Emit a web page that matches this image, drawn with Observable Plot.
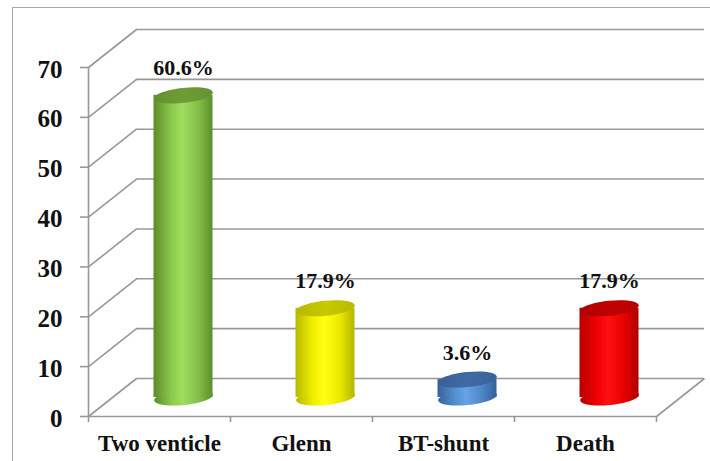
<!DOCTYPE html>
<html><head><meta charset="utf-8">
<script src="https://cdn.jsdelivr.net/npm/d3@7"></script>
<script src="https://cdn.jsdelivr.net/npm/@observablehq/plot@0.6"></script>
<style>
html,body{margin:0;padding:0;background:#fff;overflow:hidden;}
#wrap{position:relative;width:710px;height:461px;overflow:hidden;}
#border{position:absolute;left:12px;top:7px;width:760px;height:520px;border:1.5px solid #a9a9a9;}
#chart{position:absolute;left:0;top:0;}
</style></head><body>
<div id="wrap"><div id="border"></div><div id="chart"></div></div>
<script>
// ---- data ----
const categories = ["Two venticle", "Glenn", "BT-shunt", "Death"];
const values = [60.6, 17.9, 3.6, 17.9];
const valueLabels = ["60.6%", "17.9%", "3.6%", "17.9%"];
const yTicks = [0, 10, 20, 30, 40, 50, 60, 70];

// ---- styles ----
const bodyStops = [
  ["#5c8c28", "#8cc94c", "#9edd5e", "#86c04a", "#5e8f2a"],
  ["#b8b800", "#f0f000", "#ffff10", "#eaea00", "#b5b500"],
  ["#36629c", "#5590d0", "#66a3e6", "#4f86c6", "#34609a"],
  ["#b80000", "#f00000", "#ff1010", "#e80000", "#b00000"]
];
const topColors = ["#6d9d36", "#c8c800", "#3e6aa4", "#c20000"];
const GRID = "#989898";
const SERIF = "'Liberation Serif', 'DejaVu Serif', serif";

// geometry helpers (in scale units)
const PX_PER_CAT = 142, PX_PER_VAL = 349 / 70;
const DEPTH_X = 48 / PX_PER_CAT, DEPTH_Y = 38 / PX_PER_VAL;
const CYL_HALF = 29.5 / PX_PER_CAT;
const RX = 29.5, RY = 7.5, TILT = -6 * Math.PI / 180;

const rot = (x, y) => [x * Math.cos(TILT) - y * Math.sin(TILT), x * Math.sin(TILT) + y * Math.cos(TILT)];
const ellipse = {
  draw(ctx) {
    const k = 0.5523;
    const segs = [
      [[RX, RY * k], [RX * k, RY], [0, RY]],
      [[-RX * k, RY], [-RX, RY * k], [-RX, 0]],
      [[-RX, -RY * k], [-RX * k, -RY], [0, -RY]],
      [[RX * k, -RY], [RX, -RY * k], [RX, 0]]
    ];
    ctx.moveTo(...rot(RX, 0));
    for (const [a, b, c] of segs) ctx.bezierCurveTo(...rot(...a), ...rot(...b), ...rot(...c));
    ctx.closePath();
  }
};

const data = categories.map((c, i) => ({c, i, v: values[i], label: valueLabels[i]}));
const cx = d => d.i + 0.5 + DEPTH_X / 2;

const chart = Plot.plot({
  width: 710, height: 461,
  marginLeft: 88, marginRight: 54, marginTop: 67, marginBottom: 45,
  x: {domain: [0, 4], axis: null},
  y: {domain: [0, 70], axis: null},
  color: {type: "identity"},
  style: {background: "transparent", overflow: "visible"},
  marks: [
    Plot.ruleY(yTicks, {y: d => d + DEPTH_Y, x1: DEPTH_X, x2: 4 + DEPTH_X, stroke: GRID, strokeWidth: 1.6}),
    Plot.link(yTicks, {x1: 0, y1: d => d, x2: DEPTH_X, y2: d => d + DEPTH_Y, stroke: GRID, strokeWidth: 1.6}),
    Plot.ruleX([0], {y1: 0, y2: 70, stroke: GRID, strokeWidth: 1.6}),
    Plot.ruleY(yTicks, {x1: -8 / PX_PER_CAT, x2: 0, stroke: GRID, strokeWidth: 1.6}),
    Plot.ruleY([0], {x1: 0, x2: 4, stroke: GRID, strokeWidth: 1.6}),
    Plot.link([4], {x1: d => d, y1: 0, x2: d => d + DEPTH_X, y2: DEPTH_Y, stroke: GRID, strokeWidth: 1.6}),
    Plot.ruleX([0, 1, 2, 3, 4], {y1: 0, y2: -6 / PX_PER_VAL, stroke: GRID, strokeWidth: 1.6}),
    Plot.dot(data, {x: cx, y: DEPTH_Y / 2, r: 5, symbol: ellipse, fill: d => `url(#body${d.i})`}),
    Plot.rect(data, {x1: d => cx(d) - CYL_HALF, x2: d => cx(d) + CYL_HALF, y1: DEPTH_Y / 2, y2: d => d.v + DEPTH_Y / 2, fill: d => `url(#body${d.i})`}),
    Plot.dot(data, {x: cx, y: d => d.v + DEPTH_Y / 2, r: 5, symbol: ellipse, fill: d => `url(#top${d.i})`}),
    Plot.text(data, {x: cx, y: d => d.v + DEPTH_Y / 2, text: "label", dy: -27, fontSize: 22, fontWeight: "bold", fill: "#111"}),
    Plot.text(yTicks, {x: 0, y: d => d, text: d => String(d), textAnchor: "end", dx: -26, dy: 2, fontSize: 25, fontWeight: "bold", fill: "#111"}),
    Plot.text(data, {x: d => d.i + 0.5, y: 0, text: "c", dy: 27, fontSize: 23, fontWeight: "bold", fill: "#111"})
  ]
});

const svg = d3.select(chart);
svg.style("font-family", SERIF);
svg.selectAll("text").style("font-family", SERIF);
const defs = svg.insert("defs", ":first-child");
bodyStops.forEach((stops, i) => {
  const g = defs.append("linearGradient").attr("id", `body${i}`).attr("x1", 0).attr("x2", 1).attr("y1", 0).attr("y2", 0);
  const offs = [0, 0.3, 0.48, 0.75, 1];
  stops.forEach((c, j) => g.append("stop").attr("offset", offs[j]).attr("stop-color", c));
});
topColors.forEach((c, i) => {
  const g = defs.append("linearGradient").attr("id", `top${i}`).attr("x1", 0).attr("x2", 1).attr("y1", 0).attr("y2", 0);
  g.append("stop").attr("offset", 0).attr("stop-color", d3.color(c).darker(0.25));
  g.append("stop").attr("offset", 0.5).attr("stop-color", c);
  g.append("stop").attr("offset", 1).attr("stop-color", d3.color(c).darker(0.2));
});

document.getElementById("chart").appendChild(chart);
</script>
</body></html>
